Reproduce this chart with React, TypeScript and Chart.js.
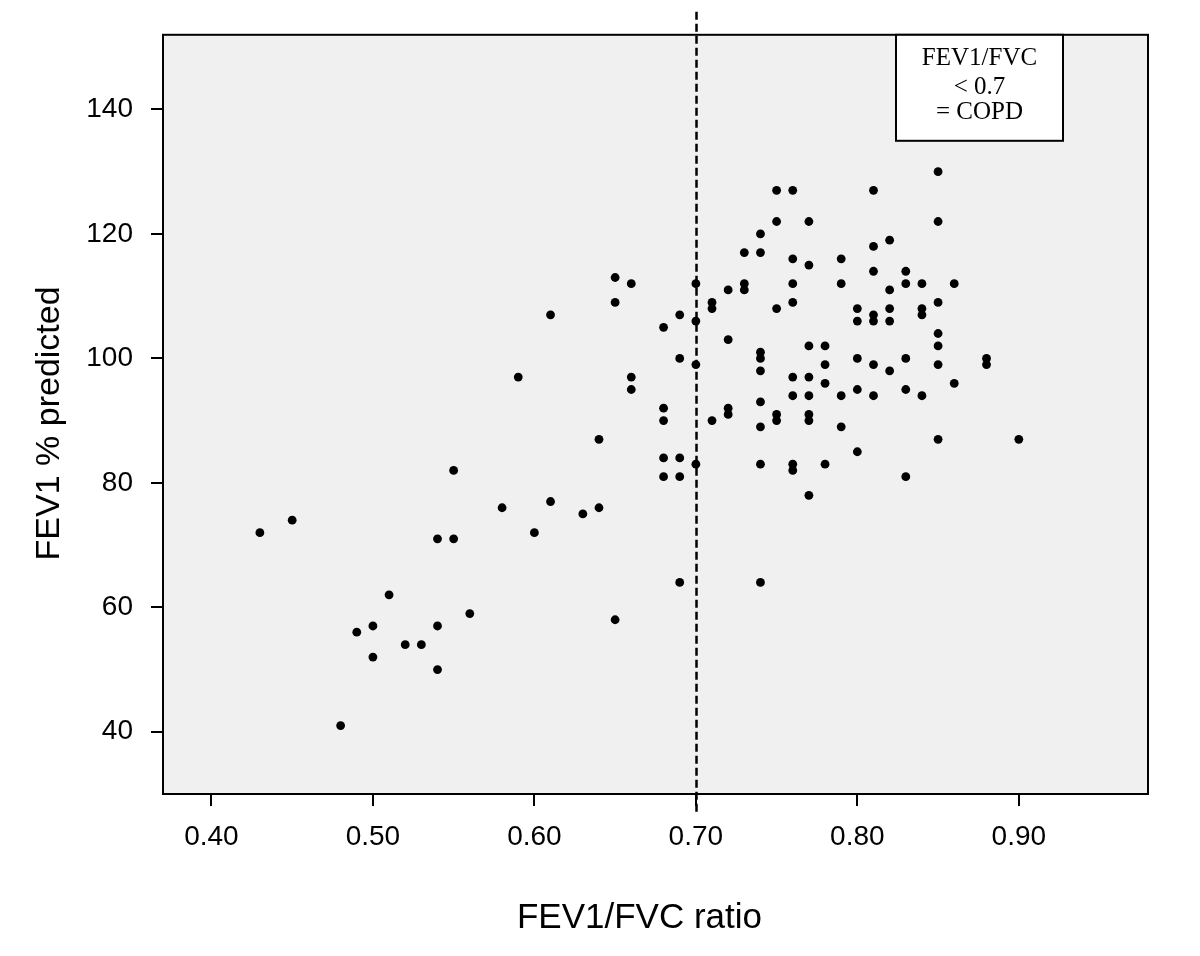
import React, { useEffect, useRef } from "react";
import { Chart, registerables } from "chart.js";

Chart.register(...registerables);

// FEV1/FVC ratio columns and the FEV1 % predicted values seen at each ratio
const ratioColumns = [
  0.43, 0.45, 0.48, 0.49, 0.5, 0.51, 0.52, 0.53, 0.54, 0.55, 0.56, 0.58, 0.59, 0.6, 0.61, 0.63, 0.64,
  0.65, 0.66, 0.68, 0.69, 0.7, 0.71, 0.72, 0.73, 0.74, 0.75, 0.76, 0.77, 0.78, 0.79, 0.8, 0.81, 0.82,
  0.83, 0.84, 0.85, 0.86, 0.88, 0.9,
];
const predictedByColumn = [
  [72],
  [74],
  [41],
  [56],
  [57, 52],
  [62],
  [54],
  [54],
  [71, 57, 50],
  [71, 82],
  [59],
  [76],
  [97],
  [72],
  [107, 77],
  [75],
  [87, 76],
  [113, 109, 58],
  [112, 97, 95],
  [105, 92, 90, 84, 81],
  [107, 100, 84, 81, 64],
  [112, 106, 99, 83],
  [109, 108, 90],
  [111, 103, 92, 91],
  [117, 112, 111],
  [120, 117, 101, 100, 98, 93, 89, 83, 64],
  [127, 122, 108, 91, 90],
  [127, 116, 112, 109, 97, 94, 83, 82],
  [122, 115, 102, 97, 94, 91, 90, 78],
  [102, 99, 96, 83],
  [116, 112, 94, 89],
  [108, 106, 100, 95, 85],
  [127, 118, 114, 107, 106, 99, 94],
  [119, 111, 108, 106, 98],
  [114, 112, 100, 95, 81],
  [112, 108, 107, 94],
  [130, 122, 109, 104, 102, 99, 87],
  [112, 96],
  [100, 99],
  [87],
];

const xTickValues = [0.4, 0.5, 0.6, 0.7, 0.8, 0.9];
const yTickValues = [40, 60, 80, 100, 120, 140];
const xRange = [0.37, 0.98];
const yRange = [30, 152];
const copdThreshold = 0.7;
const noteLines = ["FEV1/FVC", "< 0.7", "= COPD"];
const xTitle = "FEV1/FVC ratio";
const yTitle = "FEV1 % predicted";

const SANS = "'Liberation Sans', Arial, sans-serif";
const SERIF = "'Liberation Serif', 'Times New Roman', serif";

const decorPlugin = {
  id: "decor",
  beforeDraw(chart: any) {
    const { ctx, chartArea } = chart;
    ctx.save();
    ctx.fillStyle = "#f0f0f0";
    ctx.fillRect(chartArea.left, chartArea.top, chartArea.right - chartArea.left, chartArea.bottom - chartArea.top);
    ctx.restore();
  },
  beforeDatasetsDraw(chart: any) {
    const { ctx, chartArea, scales } = chart;
    const x = Math.round(scales.x.getPixelForValue(copdThreshold)) + 0.5;
    ctx.save();
    ctx.strokeStyle = "#000";
    ctx.lineWidth = 2.5;
    ctx.setLineDash([8, 4]);
    ctx.beginPath();
    ctx.moveTo(x, chartArea.top - 23);
    ctx.lineTo(x, chartArea.bottom + 18);
    ctx.stroke();
    ctx.restore();
  },
  afterDatasetsDraw(chart: any) {
    const { ctx, chartArea } = chart;
    ctx.save();
    ctx.strokeStyle = "#000";
    ctx.lineWidth = 2;
    ctx.strokeRect(chartArea.left, chartArea.top, chartArea.right - chartArea.left, chartArea.bottom - chartArea.top);

    const bl = chartArea.right - 252;
    const br = chartArea.right - 85;
    const bt = chartArea.top;
    const bb = chartArea.top + 106;
    ctx.fillStyle = "#fff";
    ctx.fillRect(bl, bt, br - bl, bb - bt);
    ctx.strokeRect(bl, bt, br - bl, bb - bt);
    ctx.fillStyle = "#000";
    ctx.font = `25px ${SERIF}`;
    ctx.textAlign = "center";
    ctx.textBaseline = "middle";
    const cx = (bl + br) / 2;
    const offsets = [24, 53, 78];
    noteLines.forEach((t, i) => ctx.fillText(t, cx, bt + offsets[i]));

    // axis titles
    ctx.fillStyle = "#000";
    ctx.textAlign = "center";
    ctx.textBaseline = "middle";
    ctx.font = `35px ${SANS}`;
    const midX = (chartArea.left + chartArea.right) / 2 - 16;
    ctx.fillText(xTitle, midX, chartArea.bottom + 124);
    ctx.font = `34px ${SANS}`;
    const midY = (chartArea.top + chartArea.bottom) / 2 + 9;
    ctx.translate(50, midY);
    ctx.rotate(-Math.PI / 2);
    ctx.fillText(yTitle, 0, 0);
    ctx.restore();
  },
};

export default function App() {
  const ref = useRef<HTMLCanvasElement | null>(null);
  useEffect(() => {
    if (!ref.current) return;
    const points: { x: number; y: number }[] = [];
    ratioColumns.forEach((r, i) => predictedByColumn[i].forEach((v) => points.push({ x: r, y: v })));

    const chart = new Chart(ref.current, {
      type: "scatter",
      data: {
        datasets: [
          {
            data: points,
            pointRadius: 4.4,
            pointBackgroundColor: "#000",
            pointBorderWidth: 0,
            pointHoverRadius: 4.4,
          },
        ],
      },
      plugins: [decorPlugin],
      options: {
        responsive: false,
        animation: false,
        devicePixelRatio: 1,
        layout: { padding: { top: 32, right: 52, left: 0, bottom: 0 } },
        plugins: { legend: { display: false }, tooltip: { enabled: false } },
        scales: {
          x: {
            type: "linear",
            min: xRange[0],
            max: xRange[1],
            afterBuildTicks: (s: any) => {
              s.ticks = xTickValues.map((v) => ({ value: v }));
            },
            afterFit: (s: any) => {
              s.height = 162;
            },
            ticks: {
              color: "#000",
              font: { size: 28, family: SANS },
              padding: 14,
              maxRotation: 0,
              autoSkip: false,
              callback: (v: any) => Number(v).toFixed(2),
            },
            grid: { drawOnChartArea: false, drawTicks: true, tickLength: 12, color: "#000", lineWidth: 2 },
            border: { display: false },
            title: { display: false },
          },
          y: {
            type: "linear",
            min: yRange[0],
            max: yRange[1],
            afterBuildTicks: (s: any) => {
              s.ticks = yTickValues.map((v) => ({ value: v }));
            },
            afterFit: (s: any) => {
              s.width = 163;
            },
            ticks: {
              color: "#000",
              font: { size: 28, family: SANS },
              padding: 18,
              autoSkip: false,
              callback: (v: any) => String(v),
            },
            grid: { drawOnChartArea: false, drawTicks: true, tickLength: 12, color: "#000", lineWidth: 2 },
            border: { display: false },
            title: { display: false },
          },
        },
      },
    } as any);
    return () => chart.destroy();
  }, []);

  return (
    <div style={{ position: "absolute", left: 0, top: 0, width: 1200, height: 956, background: "#fff" }}>
      <canvas ref={ref} width={1200} height={956} style={{ display: "block" }} />
    </div>
  );
}
